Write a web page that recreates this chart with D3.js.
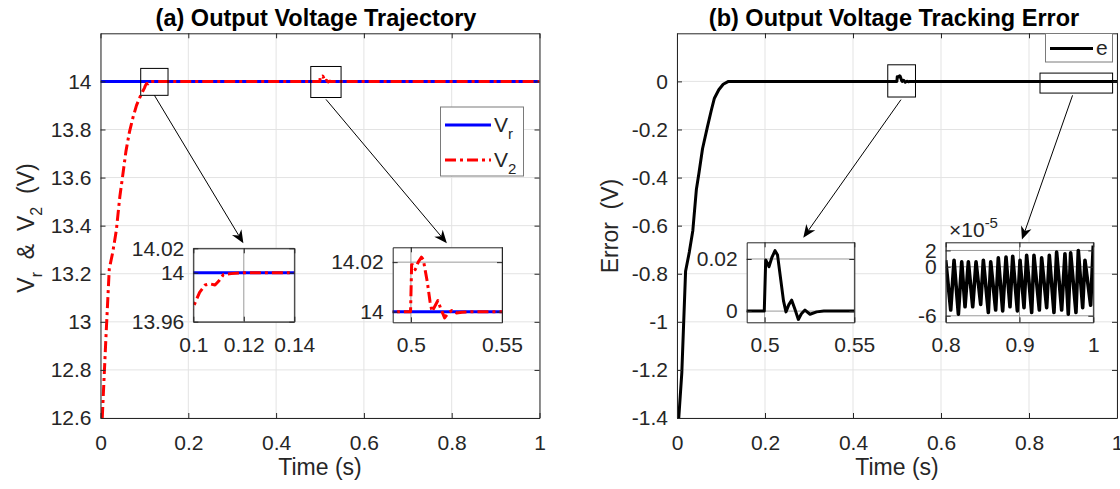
<!DOCTYPE html>
<html>
<head>
<meta charset="utf-8">
<script src="https://cdn.jsdelivr.net/npm/d3@7"></script>
<style>
  body { margin: 0; background: #fff; }
  svg text { font-family: "Liberation Sans", Arial, sans-serif; fill: #262626; white-space: pre; }
</style>
</head>
<body>
<svg id="fig" width="1120" height="489"></svg>
<script>
// ---- data ----
const xTicks = [0, 0.2, 0.4, 0.6, 0.8, 1];
const vTicks = [12.6, 12.8, 13, 13.2, 13.4, 13.6, 13.8, 14];
const eTicks = [-1.4, -1.2, -1, -0.8, -0.6, -0.4, -0.2, 0];

const vRef = 14;

// V2 start-up transient
const riseT = [0.004, 0.012, 0.020, 0.028, 0.036, 0.044, 0.050, 0.058, 0.066, 0.074, 0.082, 0.090, 0.096, 0.100, 0.1025, 0.1047, 0.1065, 0.1086, 0.1100, 0.1119, 0.1150, 0.1200];
const riseV = [12.60, 12.92, 13.22, 13.29, 13.38, 13.52, 13.60, 13.71, 13.79, 13.85, 13.90, 13.935, 13.958, 13.972, 13.984, 13.990, 13.991, 13.990, 13.993, 13.9985, 13.9993, 14.000];

// V2 disturbance near t = 0.5
const bumpT = [0.4998, 0.5004, 0.5010, 0.5024, 0.5040, 0.5058, 0.5068, 0.5090, 0.5105, 0.5116, 0.5130, 0.5148, 0.5165, 0.5185, 0.5205, 0.5225, 0.5250, 0.5280, 0.5330];
const bumpV = [14.000, 14.019, 14.019, 14.017, 14.020, 14.022, 14.021, 14.012, 14.004, 14.000, 14.002, 14.0045, 14.001, 13.9975, 13.9995, 14.0005, 13.9995, 13.9998, 14.000];

// error transient
const errT = [0.004, 0.011, 0.0195, 0.028, 0.036, 0.044, 0.050, 0.058, 0.069, 0.078, 0.085, 0.095, 0.105, 0.117];
const errV = [-1.40, -1.21, -0.79, -0.71, -0.62, -0.45, -0.38, -0.28, -0.19, -0.12, -0.07, -0.035, -0.012, 0];

// error disturbance near t = 0.5
const eBumpT = [0.4998, 0.5006, 0.5015, 0.5024, 0.5040, 0.5058, 0.5072, 0.5090, 0.5105, 0.5119, 0.5135, 0.5151, 0.5170, 0.5188, 0.5205, 0.5225, 0.5253, 0.5290, 0.5330];
const eBumpV = [0, 0.0196, 0.0185, 0.0170, 0.0205, 0.0232, 0.0215, 0.012, 0.004, -0.0003, 0.0025, 0.0042, 0.0005, -0.0032, -0.001, 0.0004, -0.0012, -0.0003, 0];

// steady-state ripple of e, units of 1e-5
const rippleT = [0.8000, 0.8068, 0.8113, 0.8172, 0.8217, 0.8262, 0.8307, 0.8366, 0.8411, 0.8474, 0.8510, 0.8578, 0.8610, 0.8677, 0.8713, 0.8772, 0.8817, 0.8871, 0.8908, 0.8971, 0.9007, 0.9061, 0.9097, 0.9165, 0.9196, 0.9269, 0.9300, 0.9368, 0.9404, 0.9467, 0.9503, 0.9571, 0.9616, 0.9661, 0.9693, 0.9765, 0.9797, 0.9856, 0.9887, 0.9964, 1.0000];
const rippleV = [0.8, -5.3, 0.8, -5.8, 0.6, -4.9, 0.6, -4.9, 0.6, -4.6, 0.8, -5.6, 0.6, -5.3, 1.1, -5.4, 1.2, -4.9, 1.3, -5.4, 0.8, -5.0, 1.4, -5.6, 1.4, -5.3, 1.1, -5.0, 1.4, -5.6, 1.8, -5.3, 1.6, -5.8, 1.7, -5.6, 2.0, -5.0, 0.8, -4.7, 2.6];

// build series
const zip = (t, v) => t.map((d, i) => [d, v[i]]);
const vrSeries = [[0, vRef], [1, vRef]];
const v2Series = zip(riseT, riseV).concat(zip(bumpT, bumpV), [[1, vRef]]);
const eSeries = zip(errT, errV).concat(zip(eBumpT, eBumpV), zip(rippleT, rippleV.map(v => v * 1e-5)));
const rippleSeries = zip(rippleT, rippleV);

const INK = "#262626";
const GRID = "#e3e3e3";
const TICK_FS = 21;
const svg = d3.select("#fig");

function styleAxis(g, fs) {
  g.select(".domain").attr("stroke", INK).attr("stroke-width", 1);
  g.selectAll(".tick line").attr("stroke", INK);
  g.selectAll(".tick text").attr("font-size", fs).attr("fill", INK)
    .attr("font-family", '"Liberation Sans", Arial, sans-serif');
}

// white background + grid lines
function frame(g, x, y, xt, yt, o) {
  const [l, r] = x.range(), [b, t] = y.range();
  g.append("rect").attr("x", l).attr("y", t).attr("width", r - l).attr("height", b - t).attr("fill", "#fff");
  g.append("g").selectAll("line").data(xt).join("line")
    .attr("x1", d => x(d)).attr("x2", d => x(d)).attr("y1", t).attr("y2", b)
    .attr("stroke", o.grid).attr("stroke-width", 1);
  g.append("g").selectAll("line").data(yt).join("line")
    .attr("y1", d => y(d)).attr("y2", d => y(d)).attr("x1", l).attr("x2", r)
    .attr("stroke", o.grid).attr("stroke-width", 1);
}

// axes box with inward ticks on all four sides
function axes(g, x, y, xt, yt, o) {
  const [l, r] = x.range(), [b, t] = y.range();
  g.append("g").attr("transform", `translate(0,${b})`)
    .call(d3.axisBottom(x).tickValues(xt).tickSize(-5).tickSizeOuter(0).tickPadding(o.xPad).tickFormat(o.xFmt))
    .call(s => styleAxis(s, o.fs));
  g.append("g").attr("transform", `translate(${l},0)`)
    .call(d3.axisLeft(y).tickValues(yt).tickSize(-5).tickSizeOuter(0).tickPadding(o.yPad).tickFormat(o.yFmt))
    .call(s => styleAxis(s, o.fs));
  g.append("g").attr("transform", `translate(0,${t})`)
    .call(d3.axisTop(x).tickValues(xt).tickSize(-5).tickSizeOuter(0).tickFormat(""))
    .call(s => styleAxis(s, o.fs));
  g.append("g").attr("transform", `translate(${r},0)`)
    .call(d3.axisRight(y).tickValues(yt).tickSize(-5).tickSizeOuter(0).tickFormat(""))
    .call(s => styleAxis(s, o.fs));
}

let clipId = 0;
function plotLine(g, x, y, data, st) {
  const [l, r] = x.range(), [b, t] = y.range();
  const id = "clip" + (clipId++);
  g.append("clipPath").attr("id", id).append("rect")
    .attr("x", l).attr("y", t).attr("width", r - l).attr("height", b - t);
  g.append("path").datum(data)
    .attr("clip-path", `url(#${id})`)
    .attr("fill", "none")
    .attr("stroke", st.color)
    .attr("stroke-width", st.width)
    .attr("stroke-dasharray", st.dash || null)
    .attr("stroke-linejoin", "round")
    .attr("d", d3.line().x(d => x(d[0])).y(d => y(d[1])));
}

function arrow(g, x, y, from, to) {
  const x1 = x(from[0]), y1 = y(from[1]), x2 = x(to[0]), y2 = y(to[1]);
  const a = Math.atan2(y2 - y1, x2 - x1);
  const L = 13, W = 5.5, back = 4;
  const pt = (d, s) => [x2 - d * Math.cos(a) - s * Math.sin(a), y2 - d * Math.sin(a) + s * Math.cos(a)];
  g.append("line").attr("x1", x1).attr("y1", y1).attr("x2", pt(L - back, 0)[0]).attr("y2", pt(L - back, 0)[1])
    .attr("stroke", "#000").attr("stroke-width", 1);
  g.append("path").attr("d", "M" + [[x2, y2], pt(L, W), pt(L - back, 0), pt(L, -W)].map(p => p.join(",")).join("L") + "Z")
    .attr("fill", "#000");
}

function zoomBox(g, x, y, t0, t1, v0, v1) {
  g.append("rect").attr("x", x(t0)).attr("y", y(v1)).attr("width", x(t1) - x(t0)).attr("height", y(v0) - y(v1))
    .attr("fill", "none").attr("stroke", "#000").attr("stroke-width", 1);
}

const fmt = d => String(d);
const blue = { color: "#0000ff", width: 3 };
const red = { color: "#ff0000", width: 3, dash: "11,4,3,4" };
const black = { color: "#000", width: 3 };
const blackThick = { color: "#000", width: 3.6 };

// ================= (a) =================
const gA = svg.append("g");
const xA = d3.scaleLinear().domain([0, 1]).range([100.5, 539.5]);
const yA = d3.scaleLinear().domain([12.6, 14.2]).range([418, 33.3]);
frame(gA, xA, yA, xTicks, vTicks, { grid: GRID });
plotLine(gA, xA, yA, vrSeries, blue);
plotLine(gA, xA, yA, v2Series, red);
axes(gA, xA, yA, xTicks, vTicks, { fs: TICK_FS, xPad: 17, yPad: 9, xFmt: fmt, yFmt: fmt });

gA.append("text").attr("x", 316).attr("y", 26).attr("text-anchor", "middle")
  .attr("font-size", 23.5).attr("font-weight", "bold").style("fill", "#000").text("(a) Output Voltage Trajectory");
gA.append("text").attr("x", 320).attr("y", 475).attr("text-anchor", "middle").attr("font-size", 23).text("Time (s)");
const yl = gA.append("text").attr("transform", "translate(34,228) rotate(-90)").attr("text-anchor", "middle").attr("font-size", 23);
yl.append("tspan").text("V");
yl.append("tspan").attr("dy", 8).attr("font-size", 16).text("r");
yl.append("tspan").attr("dy", -8).text("  &  V");
yl.append("tspan").attr("dy", 8).attr("font-size", 16).text("2");
yl.append("tspan").attr("dy", -8).text("  (V)");

// legend (a)
const lgA = gA.append("g");
lgA.append("rect").attr("x", 440.5).attr("y", 107).attr("width", 83).attr("height", 69)
  .attr("fill", "#fff").attr("stroke", "#7a7a7a").attr("stroke-width", 1);
lgA.append("line").attr("x1", 445).attr("x2", 491).attr("y1", 125).attr("y2", 125).attr("stroke", blue.color).attr("stroke-width", 3);
lgA.append("line").attr("x1", 445).attr("x2", 491).attr("y1", 160).attr("y2", 160).attr("stroke", red.color).attr("stroke-width", 3).attr("stroke-dasharray", red.dash);
const lv1 = lgA.append("text").attr("x", 494).attr("y", 132).attr("font-size", 21);
lv1.append("tspan").text("V"); lv1.append("tspan").attr("dy", 7).attr("font-size", 15).text("r");
const lv2 = lgA.append("text").attr("x", 494).attr("y", 167).attr("font-size", 21);
lv2.append("tspan").text("V"); lv2.append("tspan").attr("dy", 7).attr("font-size", 15).text("2");

zoomBox(gA, xA, yA, 0.0916, 0.1538, 13.942, 14.054);
zoomBox(gA, xA, yA, 0.479, 0.548, 13.933, 14.062);
arrow(gA, xA, yA, [0.1228, 13.942], [0.3255, 13.327]);
arrow(gA, xA, yA, [0.5137, 13.925], [0.789, 13.327]);

// insets
function inset(g, o) {
  const x = d3.scaleLinear().domain(o.xDom).range([o.x0, o.x1]);
  const y = d3.scaleLinear().domain(o.yDom).range([o.y1, o.y0]);
  frame(g, x, y, o.xt, o.yt, { grid: "#9a9a9a" });
  o.lines.forEach(l => plotLine(g, x, y, l[0], l[1]));
  axes(g, x, y, o.xt, o.yt, { fs: TICK_FS, xPad: 15, yPad: 9, xFmt: fmt, yFmt: fmt });
  return { x, y };
}
inset(gA, { x0: 193.3, x1: 294.3, y0: 248.3, y1: 321.7, xDom: [0.1, 0.14], yDom: [13.96, 14.02],
  xt: [0.1, 0.12, 0.14], yt: [13.96, 14, 14.02], lines: [[vrSeries, blue], [v2Series, red]] });
inset(gA, { x0: 392.7, x1: 502, y0: 247.3, y1: 322.3, xDom: [0.49, 0.55], yDom: [13.9957, 14.026],
  xt: [0.5, 0.55], yt: [14, 14.02], lines: [[vrSeries, blue], [v2Series, red]] });

// ================= (b) =================
const gB = svg.append("g");
const xB = d3.scaleLinear().domain([0, 1]).range([677, 1117]);
const yB = d3.scaleLinear().domain([-1.4, 0.2]).range([418, 33.3]);
frame(gB, xB, yB, xTicks, eTicks, { grid: GRID });
plotLine(gB, xB, yB, eSeries, black);
axes(gB, xB, yB, xTicks, eTicks, { fs: TICK_FS, xPad: 17, yPad: 9, xFmt: fmt, yFmt: fmt });

gB.append("text").attr("x", 894).attr("y", 26).attr("text-anchor", "middle")
  .attr("font-size", 23.5).attr("font-weight", "bold").style("fill", "#000").text("(b) Output Voltage Tracking Error");
gB.append("text").attr("x", 897).attr("y", 475).attr("text-anchor", "middle").attr("font-size", 23).text("Time (s)");
gB.append("text").attr("transform", "translate(618,226) rotate(-90)").attr("text-anchor", "middle")
  .attr("font-size", 23).text("Error  (V)");

// legend (b)
gB.append("rect").attr("x", 1045.5).attr("y", 33.5).attr("width", 67).attr("height", 28.5)
  .attr("fill", "#fff").attr("stroke", "#7a7a7a").attr("stroke-width", 1);
gB.append("line").attr("x1", 1050).attr("x2", 1093).attr("y1", 48.5).attr("y2", 48.5).attr("stroke", "#000").attr("stroke-width", 3);
gB.append("text").attr("x", 1096).attr("y", 55).attr("font-size", 21).text("e");

zoomBox(gB, xB, yB, 0.479, 0.542, -0.065, 0.069);
zoomBox(gB, xB, yB, 0.825, 0.990, -0.0486, 0.0345);
arrow(gB, xB, yB, [0.509, -0.076], [0.287, -0.65]);
arrow(gB, xB, yB, [0.899, -0.058], [0.784, -0.658]);

inset(gB, { x0: 746.7, x1: 854.3, y0: 242.3, y1: 322.3, xDom: [0.49, 0.55], yDom: [-0.0043, 0.0264],
  xt: [0.5, 0.55], yt: [0, 0.02], lines: [[eSeries, black]] });
inset(gB, { x0: 945.7, x1: 1093.3, y0: 242.3, y1: 322.3, xDom: [0.8, 1], yDom: [-6.8, 3],
  xt: [0.8, 0.9, 1], yt: [-6, 0, 2], lines: [[rippleSeries, blackThick]] });
const ex = gB.append("text").attr("x", 949).attr("y", 237).attr("font-size", 21);
ex.append("tspan").text("\u00d710");
ex.append("tspan").attr("dy", -9).attr("font-size", 15).text("-5");
</script>
</body>
</html>
